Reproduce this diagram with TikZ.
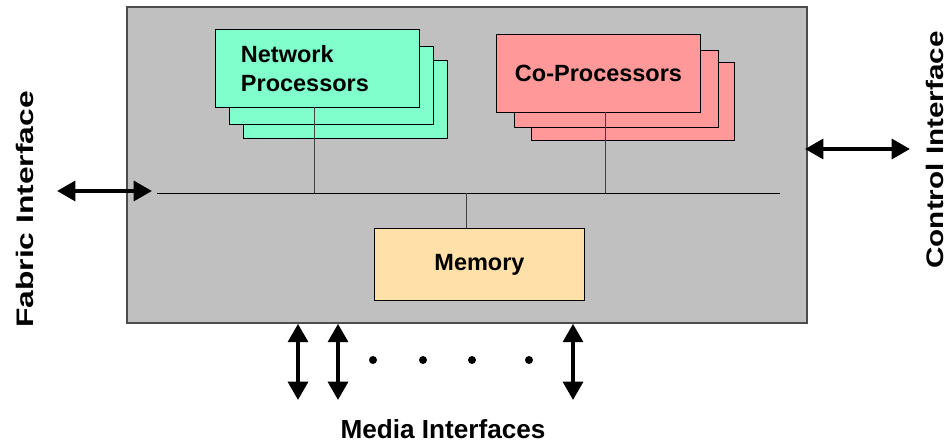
\documentclass[tikz,border=0pt]{standalone}
\usepackage{fontspec}
\setmainfont{Liberation Sans}
\usetikzlibrary{arrows.meta}
\definecolor{chipgray}{RGB}{192,192,192}
\definecolor{npgreen}{RGB}{128,255,204}
\definecolor{cpred}{RGB}{255,153,153}
\definecolor{memtan}{RGB}{255,224,168}
\begin{document}
\begin{tikzpicture}[x=0.025cm,y=-0.025cm,
  card/.style={draw=black,line width=0.7pt,inner sep=0pt,minimum width=5.075cm,minimum height=1.925cm},
  cardtext/.style={font=\fontsize{16.7}{21}\selectfont\bfseries},
  outtext/.style={font=\fontsize{17}{20}\selectfont\bfseries},
  tap/.style={draw=black!75,line width=0.7pt},
  port/.style={line width=2.8pt,{Triangle[width=14pt,length=13pt]}-{Triangle[width=14pt,length=13pt]}},
  dot/.style={fill=black}]
\useasboundingbox (0,0) rectangle (951,444);
% chip outline
\node[draw=black!70,line width=1.1pt,fill=chipgray,minimum width=17cm,minimum height=7.9cm] (chip) at (467,165) {};
% network processors
\node[card,fill=npgreen] (np3) at (345.5,99.5) {};
\node[card,fill=npgreen] (np2) at (331.5,85.5) {};
\node[card,fill=npgreen,cardtext,inner xsep=0.625cm,text width=3.825cm,align=left] (np1) at (317.5,68.5) {Network\\Processors};
% co-processors
\node[card,fill=cpred] (cp3) at (633,101.5) {};
\node[card,fill=cpred] (cp2) at (616.5,89) {};
\node[card,fill=cpred,cardtext] (cp1) at (598.5,73.5) {Co-Processors};
% memory
\node[card,fill=memtan,cardtext,minimum width=5.225cm,minimum height=1.775cm] (mem) at (479.5,264.5) {Memory};
% bus
\coordinate (busL) at (157,193);
\coordinate (busR) at (780,193);
\coordinate (tapN) at (314,193);
\coordinate (tapC) at (605,193);
\coordinate (tapM) at (466,193);
\draw[line width=0.7pt] (busL) -- (busR);
\draw[tap] (tapN |- np1.south) -- (tapN);
\draw[tap] (tapC |- cp1.south) -- (tapC);
\draw[tap] (tapM |- mem.north) -- (tapM);
% interfaces
\coordinate (fabL) at (57,191);
\coordinate (fabR) at (152,191);
\coordinate (ctlL) at (805,149);
\coordinate (ctlR) at (910,149);
\coordinate (med1) at (298,400);
\coordinate (med2) at (338,400);
\coordinate (med3) at (573,400);
\draw[port] (fabL) -- (fabR);
\draw[port] (ctlL) -- (ctlR);
\draw[port] (med1 |- chip.south) -- (med1);
\draw[port] (med2 |- chip.south) -- (med2);
\draw[port] (med3 |- chip.south) -- (med3);
\foreach \dx in {373,423,472,529}
  \fill[dot] (\dx,360) circle (4);
\node[outtext,rotate=90] (fablbl) at (25,209.5) {\scalebox{1.33}[1]{Fabric Interface}};
\node[outtext,rotate=90] (ctllbl) at (935,150) {\scalebox{1.24}[1]{Control Interface}};
\node[font=\fontsize{18.6}{22}\selectfont\bfseries] (medlbl) at (443,429) {Media Interfaces};
\end{tikzpicture}
\end{document}
